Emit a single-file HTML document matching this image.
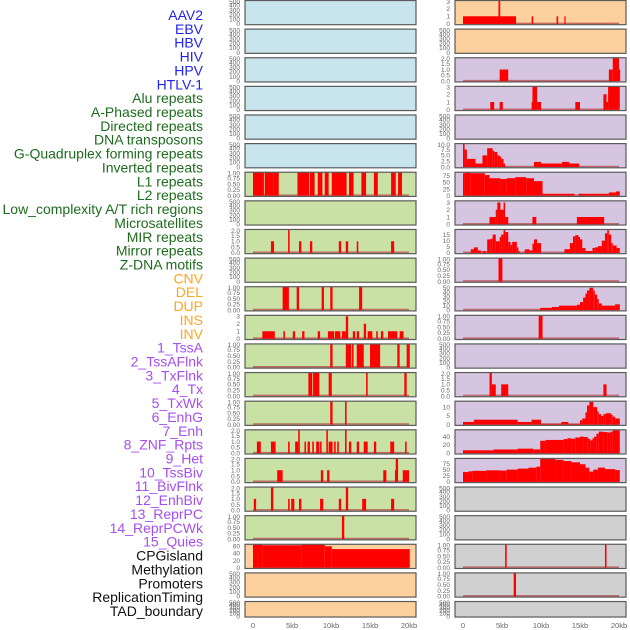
<!DOCTYPE html>
<html><head><meta charset="utf-8">
<style>
html,body{margin:0;padding:0;background:#fff;}
svg{display:block;font-family:"Liberation Sans",sans-serif;}
</style></head>
<body>
<svg id="chart" width="630" height="630" viewBox="0 0 630 630"></svg>
<script>
// ---- track labels ----
const trackLabels = ["AAV2","EBV","HBV","HIV","HPV","HTLV-1","Alu repeats","A-Phased repeats","Directed repeats","DNA transposons","G-Quadruplex forming repeats","Inverted repeats","L1 repeats","L2 repeats","Low_complexity A/T rich regions","Microsatellites","MIR repeats","Mirror repeats","Z-DNA motifs","CNV","DEL","DUP","INS","INV","1_TssA","2_TssAFlnk","3_TxFlnk","4_Tx","5_TxWk","6_EnhG","7_Enh","8_ZNF_Rpts","9_Het","10_TssBiv","11_BivFlnk","12_EnhBiv","13_ReprPC","14_ReprPCWk","15_Quies","CPGisland","Methylation","Promoters","ReplicationTiming","TAD_boundary"];
const labelGroups = [6,13,5,15,5];
const groupColors = ["#2222ee","#1e6b1e","#ffa520","#a64ef0","#111111"];

// ---- x axis ----
const xTickValues = [0,5,10,15,20];
const xTickLabels = ["0","5kb","10kb","15kb","20kb"];

// ---- y tick label sets ----
const ticks500 = ["0","100","200","300","400","500"];
const ticks1 = ["0.00","0.25","0.50","0.75","1.00"];
const ticks2 = ["0.0","0.5","1.0","1.5","2.0"];
const ticks3 = ["0","1","2","3"];
const ticks10 = ["0.0","2.5","5.0","7.5","10.0"];
const ticks75 = ["0","25","50","75"];
const ticks15 = ["0","5","10","15"];
const ticks50 = ["0","10","20","30","40","50"];
const ticks10b = ["0","5","10"];
const ticks40 = ["0","20","40"];
const ticks60 = ["0","20","40","60"];

// ---- left column data: [startKb, endKb, value] ----
const left07 = [[0,1.4,1],[1.5,2.6,1],[2.6,3.3,1],[5.7,7.2,1],[7.3,7.9,1],[8.3,8.9,1],[9.2,9.7,1],[10.1,10.9,1],[10.9,12.0,1],[12.3,12.9,1],[13.9,14.5,1],[15.5,16.0,1],[17.7,18.3,1],[18.6,19.1,1]];
const left09 = [[2.3,2.7,1],[4.5,4.7,2],[5.9,6.2,1],[7.3,7.6,1],[11.0,11.3,1],[11.9,12.2,1],[13.3,13.5,1],[17.7,18.1,1]];
const left11 = [[3.8,4.6,1],[5.6,5.9,1],[8.8,9.1,1],[9.9,10.2,1],[13.6,14.0,1]];
const left12 = [[1.2,2.8,1],[3.9,4.1,1],[5.1,5.4,1],[6.3,6.6,1],[8.3,8.6,1],[9.6,10.4,1],[10.5,11.2,1],[11.4,11.9,1],[11.9,12.2,3],[12.8,13.1,1],[13.3,13.6,1],[14.2,14.5,2],[14.7,15.3,1],[15.8,16.0,1],[16.4,16.7,1],[17.3,18.5,1],[18.8,19.3,1]];
const left13 = [[9.9,10.2,1],[11.9,12.6,1],[12.7,12.9,1],[13.3,14.2,1],[15.0,16.3,1],[18.5,18.8,1],[19.7,20.1,1]];
const left14 = [[7.1,7.6,1],[7.7,8.5,1],[9.7,10.1,1],[14.5,14.7,1],[19.4,19.7,1]];
const left15 = [[9.9,10.2,1],[11.8,12.0,1]];
const left16 = [[0.5,1.0,1],[2.3,2.9,1],[4.5,4.7,1],[5.4,5.8,1],[5.8,6.0,2],[6.6,6.8,1],[7.0,7.3,1],[7.6,7.8,1],[8.1,8.5,1],[8.6,8.8,1],[9.4,9.6,2],[9.7,10.0,1],[10.0,10.2,1],[10.4,10.6,1],[10.8,11.0,1],[11.8,12.0,2],[12.3,12.6,1],[13.3,13.6,1],[14.2,14.7,1],[15.5,15.8,1],[17.6,18.1,1],[19.5,19.7,1]];
const left17 = [[3.1,3.8,1],[8.7,9.0,1],[9.5,9.8,1],[16.7,17.1,1],[18.2,18.3,1],[18.3,18.6,2],[19.2,20.0,1]];
const left18 = [[0.1,0.4,1],[2.3,2.6,2],[4.5,4.7,1],[4.9,5.3,1],[5.9,6.2,1],[8.6,9.0,1],[11.0,11.3,1],[11.9,12.2,2],[14.0,14.5,1],[17.7,18.1,1]];
const left19 = [[11.4,11.7,1]];
const left20 = [[0,1.2,64.6],[1.2,6.2,62.8],[6.2,9.2,64.6],[9.2,10.1,60],[10.1,20.1,52]];

// ---- right column data ----
const right01 = [[0,6.8,1],[4.55,4.77,3],[8.8,9.0,1],[12.0,12.2,1],[13.0,13.15,1]];
const right03 = [[4.7,5.8,1],[18.7,19.2,1],[19.2,20.0,2],[20.0,20.1,1]];
const right04 = [[3.5,4.0,1],[4.7,5.1,1],[8.8,8.9,1],[8.9,9.5,3],[9.5,10.0,1],[14.4,15.0,1],[18.0,18.4,2],[18.4,18.6,1],[18.6,20.1,3]];
const right06 = [[0,0.2,10],[0.2,0.5,7.5],[0.5,0.7,3.5],[0.7,1.6,3.5],[1.6,2.5,1.5],[2.5,3.1,5],[3.1,3.8,8.1],[3.8,4.0,7],[4.0,4.4,6.5],[4.4,4.7,5],[4.7,4.9,4.5],[4.9,5.2,3.5],[5.2,5.4,1.5],[9.1,10.0,2.2],[10.0,12.7,1.5],[12.7,13.6,2.2],[13.6,14.9,1.5]];
const right07 = [[0,0.2,85],[0.2,1.0,87],[1.0,2.8,85],[2.8,3.4,78],[3.4,4.8,66],[4.8,5.6,63],[5.6,6.7,66],[6.7,8.1,70],[8.1,9.1,66],[9.1,10.2,55],[10.2,14.3,7],[14.8,18.7,7],[18.7,19.6,12],[19.6,20.1,16]];
const right08 = [[3.4,4.2,1],[4.2,4.4,2],[4.4,4.8,3],[4.8,5.2,2],[5.2,5.4,3],[5.4,5.8,1],[8.9,9.4,1],[14.6,18.1,1]];
const right09 = [[1.0,1.4,3],[1.4,1.9,4.5],[1.9,2.3,2],[2.5,3.0,1.5],[3.1,3.5,11],[3.5,3.8,11.5],[3.8,4.2,15],[4.2,4.7,9.5],[4.7,4.9,13],[4.9,5.2,15],[5.2,5.4,19],[5.4,5.8,17],[5.8,6.1,9],[6.1,6.3,6.5],[6.3,6.9,9],[6.9,7.1,4.5],[7.1,7.2,1.5],[7.9,8.1,2.7],[8.1,8.5,3],[8.5,8.9,2],[8.9,9.1,7.5],[9.1,9.5,11],[9.5,10.0,8],[13.0,13.7,3],[13.7,14.1,8],[14.1,14.4,13.5],[14.4,14.8,14.5],[14.8,15.0,13],[15.0,15.3,11],[15.3,15.7,4],[15.7,16.6,1.5],[16.6,16.9,4],[16.9,17.3,4.5],[17.3,17.8,5.5],[17.8,18.2,10],[18.2,18.5,16],[18.5,18.7,19],[18.7,19.0,15],[19.0,19.2,8],[19.2,19.7,6],[19.7,20.1,4]];
const right10 = [[4.55,5.05,1]];
const right11 = [[9.9,11.4,5],[11.4,12.3,7],[12.3,14.6,10],[14.6,15.0,12],[15.0,15.4,18],[15.4,15.7,28],[15.7,15.9,37],[15.9,16.2,44],[16.2,16.7,50],[16.7,16.9,44],[16.9,17.2,35],[17.2,17.4,25],[17.4,17.8,15],[17.8,19.5,10],[19.5,20.1,13]];
const right12 = [[9.7,10.2,1]];
const right14 = [[3.4,3.7,2],[3.7,4.2,1],[4.9,5.8,1],[18.0,18.4,1]];
const right15 = [[0,1.4,1.5],[1.4,7.0,2.8],[7.0,8.8,1.5],[8.8,10.0,2.8],[10.0,12.6,0.4],[12.6,13.5,1.5],[13.5,15.0,0.3],[15.0,15.3,2.5],[15.3,15.7,3.5],[15.7,15.9,7],[15.9,16.2,11],[16.2,16.7,13],[16.7,17.2,10],[17.2,17.4,7.5],[17.4,17.7,6],[17.7,18.0,5],[18.0,18.3,6],[18.3,19.0,6.5],[19.0,19.2,5.5],[19.2,19.5,4.5],[19.5,20.1,3.5]];
const right16 = [[0,3.9,7],[3.9,7.0,9],[7.0,9.0,11],[9.0,9.9,9],[9.9,10.6,30],[10.6,12.9,32],[12.9,13.4,34],[13.4,13.9,36],[13.9,14.4,35],[14.4,15.0,38],[15.0,15.5,40],[15.5,16.0,39],[16.0,16.3,35],[16.3,16.6,31],[16.6,16.8,36],[16.8,17.1,40],[17.1,17.4,47],[17.4,18.0,52],[18.0,18.5,51],[18.5,18.9,50],[18.9,19.2,52],[19.2,20.1,55]];
const right17 = [[0,0.7,40],[0.7,1.2,43],[1.2,3.0,45],[3.0,4.8,47],[4.8,5.6,46],[5.6,7.0,50],[7.0,8.4,54],[8.4,9.4,58],[9.4,9.9,62],[9.9,11.8,95],[11.8,12.9,90],[12.9,13.9,85],[13.9,15.0,80],[15.0,15.7,72],[15.7,16.2,58],[16.2,16.7,42],[16.7,17.3,50],[17.3,18.2,58],[18.2,19.5,52],[19.5,20.1,48]];
const right20 = [[5.4,5.6,1],[18.2,18.4,1]];
const right21 = [[6.5,6.8,1]];

// ---- row configuration (background, ticks, axis max, data) ----
const BLUE="#c8e4ec", GREEN="#c9e1a5", ORANGE="#fed09e", PURPLE="#d5c5e1", GRAY="#d0d0d0";
const rows = [
 [BLUE,ticks500,500,null, ORANGE,ticks3,3.05,right01],
 [BLUE,ticks500,500,null, ORANGE,ticks500,500,null],
 [BLUE,ticks500,500,null, PURPLE,ticks2,2,right03],
 [BLUE,ticks500,500,null, PURPLE,ticks3,3,right04],
 [BLUE,ticks500,500,null, PURPLE,ticks500,500,null],
 [BLUE,ticks500,500,null, PURPLE,ticks10,10,right06],
 [GREEN,ticks1,1,left07, PURPLE,ticks75,88,right07],
 [GREEN,ticks500,500,null, PURPLE,ticks3,3.2,right08],
 [GREEN,ticks2,2,left09, PURPLE,ticks15,19,right09],
 [GREEN,ticks500,500,null, PURPLE,ticks1,1,right10],
 [GREEN,ticks1,1,left11, PURPLE,ticks50,52,right11],
 [GREEN,ticks3,3.1,left12, PURPLE,ticks1,1,right12],
 [GREEN,ticks1,1,left13, PURPLE,ticks500,500,null],
 [GREEN,ticks1,1,left14, PURPLE,ticks2,2,right14],
 [GREEN,ticks1,1,left15, PURPLE,ticks10b,13.3,right15],
 [GREEN,ticks2,2,left16, PURPLE,ticks40,56,right16],
 [GREEN,ticks2,2,left17, PURPLE,ticks75,95,right17],
 [GREEN,ticks2,2,left18, GRAY,ticks500,500,null],
 [GREEN,ticks1,1,left19, GRAY,ticks500,500,null],
 [ORANGE,ticks60,65,left20, GRAY,ticks1,1,right20],
 [ORANGE,ticks500,500,null, GRAY,ticks1,1,right21],
 [ORANGE,ticks500,500,null, GRAY,ticks500,500,null]
];

const NS="http://www.w3.org/2000/svg";
const svg=document.getElementById('chart');
function mk(tag,attrs,parent){const e=document.createElementNS(NS,tag);for(const k in attrs)e.setAttribute(k,attrs[k]);(parent||svg).appendChild(e);return e;}

// labels
let li=0;
labelGroups.forEach((n,g)=>{for(let k=0;k<n;k++){
  const t=mk('text',{x:203,y:15+li*13.86+5,'text-anchor':'end','font-size':'14',fill:groupColors[g]});
  
  
  t.textContent=trackLabels[li];li++;}});

const cols=[{x0:245,x1:416,zero:253},{x0:455,x1:626,zero:463}];
const PXKB=7.8;
function xScale(col,kb){return cols[col].zero+kb*PXKB;}

rows.forEach((r,i)=>{
  const top=i*28.62+0.5;
  const h=(i===rows.length-1)?15.5:24.2;
  for(let c=0;c<2;c++){
    const bg=r[c*4],tk=r[c*4+1],mx=r[c*4+2],data=r[c*4+3];
    const g=mk('g',{});
    
    
    const x0=cols[c].x0,x1=cols[c].x1;
    mk('rect',{x:x0,y:top,width:x1-x0,height:h,fill:bg},g);
    const bottom=top+h-0.8;
    const yS=v=>bottom-(v/mx)*(h-1);
    if(data){
      const base=mk('line',{x1:xScale(c,0),x2:xScale(c,20),y1:bottom-0.5,y2:bottom-0.5,stroke:'#b44a4a','stroke-width':1.6,'stroke-opacity':0.75},g);
      
      
      data.forEach(d=>{
        const xa=xScale(c,d[0]),xb=xScale(c,d[1]);const yv=Math.max(yS(d[2]),top);
        const b=mk('rect',{x:xa,y:yv,width:Math.max(xb-xa,1.2),height:bottom-yv,fill:'#ff0000'},g);
        
        
      });
    }
    mk('rect',{x:x0,y:top,width:x1-x0,height:h,fill:'none',stroke:'#5a5a5a','stroke-width':1.2},g);
    tk.forEach(s=>{
      const v=parseFloat(s);
      const t=mk('text',{x:x0-5,y:Math.max(yS(v),top+1)+2.3,'text-anchor':'end','font-size':'6.5',fill:'#666'},g);
      
      
      t.textContent=s;
    });
  }
});

// x axes
for(let c=0;c<2;c++){
  xTickValues.forEach((v,k)=>{
    const t=mk('text',{x:xScale(c,v),y:628,'text-anchor':'middle','font-size':'7.5',fill:'#666'});
    
    
    t.textContent=xTickLabels[k];
  });
}
</script>
</body></html>
